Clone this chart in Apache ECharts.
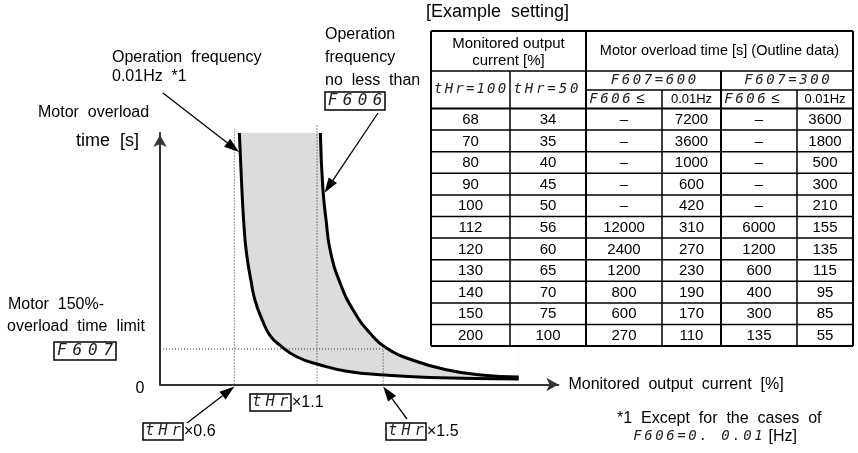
<!DOCTYPE html>
<html>
<head>
<meta charset="utf-8">
<script src="https://cdn.jsdelivr.net/npm/echarts/dist/echarts.min.js"></script>
<style>
  html, body { margin: 0; padding: 0; background: #fff; }
  #chart { width: 858px; height: 453px; }
</style>
</head>
<body>
<div id="chart"></div>
<script>
// ---- Curve data: current in multiples of tHr, overload time in seconds ----
// Operation frequency 0.01 Hz
const lowCurrent = [0.63, 0.645, 0.66, 0.675, 0.70, 0.725, 0.77, 0.815, 0.875, 0.98, 1.12, 1.28, 1.51, 1.78, 2.32];
const lowTime    = [4250, 3320, 2600, 2180, 1760, 1420, 1080, 830, 665, 465, 330, 225, 160, 120, 95];
// Operation frequency no less than F606
const highCurrent = [1.12, 1.135, 1.155, 1.18, 1.24, 1.32, 1.42, 1.52, 1.68, 1.89, 2.09, 2.32];
const highTime    = [4250, 3320, 2770, 2260, 1710, 1250, 870, 615, 410, 245, 160, 125];

// Guide lines: tHr x0.6, x1.1, x1.5 and the F607 level
const guideCurrent = [0.6, 1.1, 1.5];
const guideTop     = [4320, 4380, 600];
const limitTime    = 600;

// ---- Example setting table ----
const pctTHr100  = [68, 70, 80, 90, 100, 112, 120, 130, 140, 150, 200];
const pctTHr50   = [34, 35, 40, 45, 50, 56, 60, 65, 70, 75, 100];
const t600Above  = [null, null, null, null, null, 12000, 2400, 1200, 800, 600, 270];
const t600Min    = [7200, 3600, 1000, 600, 420, 310, 270, 230, 190, 170, 110];
const t300Above  = [null, null, null, null, null, 6000, 1200, 600, 400, 300, 135];
const t300Min    = [3600, 1800, 500, 300, 210, 155, 135, 115, 95, 85, 55];

const SANS = '"Liberation Sans", Arial, sans-serif';
const SEG = '"DejaVu Sans Mono", monospace';

const zip = (xs, ys) => xs.map((x, i) => [x, ys[i]]);

// seven-segment style display text: every character in its own fixed-width cell
function segRich(str) {
  return str.split('').map(c => '{c|' + c + '}').join('');
}
function segEl(x, y, str, charW, size, tail, tailSize) {
  return {
    type: 'text', x, y, z: 100,
    style: {
      text: segRich(str) + (tail ? '{n|' + tail + '}' : ''),
      align: 'left', verticalAlign: 'middle',
      rich: {
        c: { width: charW, align: 'center', fontSize: size, fontFamily: SEG, fontStyle: 'italic', fill: '#222' },
        n: { fontSize: tailSize || 15, fontFamily: SANS, fill: '#000' }
      }
    }
  };
}
function textEl(x, y, text, size, extra) {
  return {
    type: 'text', x, y, z: 100,
    style: Object.assign({ text, fontSize: size, fontFamily: SANS, fill: '#000', align: 'left', verticalAlign: 'middle' }, extra || {})
  };
}
function boxEl(x, y, w, h) {
  return { type: 'rect', z: 99, shape: { x, y, width: w, height: h }, style: { fill: '#fff', stroke: '#000', lineWidth: 1.5 } };
}
function lineEl(x1, y1, x2, y2, w) {
  return { type: 'line', z: 100, shape: { x1, y1, x2, y2 }, style: { stroke: '#000', lineWidth: w || 1.5 } };
}
function arrowEls(from, tip, headLen, headW) {
  const dx = tip[0] - from[0], dy = tip[1] - from[1];
  const L = Math.hypot(dx, dy), ux = dx / L, uy = dy / L;
  const bx = tip[0] - ux * headLen, by = tip[1] - uy * headLen;
  const px = -uy * headW / 2, py = ux * headW / 2;
  return [
    { type: 'line', z: 101, shape: { x1: from[0], y1: from[1], x2: bx, y2: by }, style: { stroke: '#000', lineWidth: 1.3 } },
    { type: 'polygon', z: 101, shape: { points: [tip, [bx + px, by + py], [bx - px, by - py]] }, style: { fill: '#000' } }
  ];
}

// ---- static annotations ----
const annotations = [
  textEl(112, 58, 'Operation  frequency', 16),
  textEl(112, 77, '0.01Hz  *1', 16),
  textEl(325, 35, 'Operation', 16),
  textEl(325, 58, 'frequency', 16),
  textEl(325, 81, 'no  less  than', 16),
  boxEl(325, 92, 60, 18), segEl(325, 101, 'F606', 15, 16),
  textEl(38, 113, 'Motor  overload', 16),
  textEl(76, 141, 'time  [s]', 18),
  textEl(8, 305, 'Motor  150%-', 16),
  textEl(7, 327, 'overload  time  limit', 16),
  boxEl(54, 342, 62, 18), segEl(54, 351, 'F607', 15.5, 16),
  boxEl(250, 394, 41, 17), segEl(250, 402.5, 'tHr', 13.5, 15), textEl(292, 402.5, '×1.1', 16),
  boxEl(143, 423, 40, 17), segEl(143, 431.5, 'tHr', 13.3, 15), textEl(184, 431.5, '×0.6', 16),
  boxEl(386, 423, 40, 17), segEl(386, 431.5, 'tHr', 13.3, 15), textEl(427, 431.5, '×1.5', 16),
  textEl(426, 12, '[Example  setting]', 18),
  textEl(617, 419, '*1  Except  for  the  cases  of', 16),
  segEl(632, 436.5, 'F606=0. 0.01', 11, 14, ' [Hz]', 16)
];

// ---- table ----
const colX = [431, 510, 586, 662, 721, 797, 853];
const yTop = 31, yH1 = 71, yH2 = 90, yH3 = 108.5, rowH = 21.6;
const yBottom = yH3 + rowH * pctTHr100.length;
const tableEls = [];
// horizontal rules
tableEls.push(lineEl(colX[0], yTop, colX[6], yTop, 2));
tableEls.push(lineEl(colX[0], yH1, colX[6], yH1));
tableEls.push(lineEl(colX[2], yH2, colX[6], yH2));
tableEls.push(lineEl(colX[0], yH3, colX[6], yH3, 2));
for (let i = 1; i < pctTHr100.length; i++) {
  const y = yH3 + rowH * i;
  tableEls.push(lineEl(colX[0], y, colX[6], y));
}
tableEls.push(lineEl(colX[0], yBottom, colX[6], yBottom, 2));
// vertical rules
tableEls.push(lineEl(colX[0], yTop, colX[0], yBottom, 2));
tableEls.push(lineEl(colX[6], yTop, colX[6], yBottom, 2));
tableEls.push(lineEl(colX[2], yTop, colX[2], yBottom, 2));
tableEls.push(lineEl(colX[1], yH1, colX[1], yBottom));
tableEls.push(lineEl(colX[4], yH1, colX[4], yBottom, 2));
tableEls.push(lineEl(colX[3], yH2, colX[3], yBottom));
tableEls.push(lineEl(colX[5], yH2, colX[5], yBottom));
// headers
const mid = (a, b) => (a + b) / 2;
tableEls.push(textEl(mid(colX[0], colX[2]), 44, 'Monitored output', 15, { align: 'center' }));
tableEls.push(textEl(mid(colX[0], colX[2]), 61, 'current [%]', 15, { align: 'center' }));
tableEls.push(textEl(mid(colX[2], colX[6]), 51, 'Motor overload time [s] (Outline data)', 14.5, { align: 'center' }));
tableEls.push(segEl(433, mid(yH1, yH3), 'tHr=100', 10.6, 14));
tableEls.push(segEl(512, mid(yH1, yH3), 'tHr=50', 11.3, 14));
tableEls.push(segEl(mid(colX[2], colX[4]) - 44, mid(yH1, yH2), 'F607=600', 11, 14));
tableEls.push(segEl(mid(colX[4], colX[6]) - 44, mid(yH1, yH2), 'F607=300', 11, 14));
tableEls.push(segEl(588, mid(yH2, yH3), 'F606', 11, 14, ' ≤', 15));
tableEls.push(segEl(723, mid(yH2, yH3), 'F606', 11, 14, ' ≤', 15));
tableEls.push(textEl(mid(colX[3], colX[4]), mid(yH2, yH3), '0.01Hz', 13, { align: 'center' }));
tableEls.push(textEl(mid(colX[5], colX[6]), mid(yH2, yH3), '0.01Hz', 13, { align: 'center' }));
// body
const cols = [pctTHr100, pctTHr50, t600Above, t600Min, t300Above, t300Min];
pctTHr100.forEach((_, r) => {
  const y = yH3 + rowH * (r + 0.5);
  cols.forEach((col, c) => {
    const v = col[r];
    tableEls.push(textEl(mid(colX[c], colX[c + 1]), y + 0.5, v == null ? '–' : String(v), 15, { align: 'center' }));
  });
});

// ---- chart ----
const SMOOTH = 0.5;
const guideStyle = { color: '#333', width: 1, type: [1, 2] };
const series = [
  { type: 'line', data: zip(lowCurrent, lowTime), smooth: SMOOTH, symbol: 'none', z: 1,
    lineStyle: { width: 0 }, areaStyle: { color: '#dcdcdc', opacity: 1, origin: 'end' }, silent: true },
  { type: 'line', data: zip(highCurrent, highTime), smooth: SMOOTH, symbol: 'none', z: 2,
    lineStyle: { width: 0 }, areaStyle: { color: '#ffffff', opacity: 1, origin: 'end' }, silent: true }
];
guideCurrent.forEach((g, i) => {
  series.push({ type: 'line', data: [[g, 0], [g, guideTop[i]]], symbol: 'none', z: 3, clip: false,
    lineStyle: guideStyle, silent: true });
});
series.push({ type: 'line', data: [[0.15, limitTime], [guideCurrent[2], limitTime]], symbol: 'none', z: 3,
  clip: false, lineStyle: guideStyle, silent: true });
series.push({ type: 'line', data: zip(lowCurrent, lowTime), smooth: SMOOTH, symbol: 'none', z: 4,
  clip: false, lineStyle: { color: '#000', width: 3 } });
series.push({ type: 'line', data: zip(highCurrent, highTime), smooth: SMOOTH, symbol: 'none', z: 4,
  clip: false, lineStyle: { color: '#000', width: 3 } });

const chart = echarts.init(document.getElementById('chart'), null, { renderer: 'canvas' });
const option = {
  animation: false,
  backgroundColor: '#fff',
  grid: { left: 160, top: 133, width: 398.4, height: 251.5 },
  xAxis: {
    type: 'value', min: 0.15, max: 2.56,
    name: 'Monitored  output  current  [%]', nameLocation: 'end', nameGap: 10,
    nameTextStyle: { fontSize: 16, fontFamily: SANS, color: '#000', align: 'left', verticalAlign: 'middle' },
    axisLine: { show: true, lineStyle: { color: '#333', width: 2 }, symbol: ['none', 'arrow'], symbolSize: [10, 12] },
    axisTick: { show: false }, axisLabel: { show: false }, splitLine: { show: false }
  },
  yAxis: {
    type: 'value', min: 0, max: 4250, interval: 4250,
    axisLine: { show: true, lineStyle: { color: '#333', width: 2 }, symbol: ['none', 'arrow'], symbolSize: [10, 12],
      symbolOffset: [0, -2] },
    axisTick: { show: false }, splitLine: { show: false },
    axisLabel: { show: false }
  },
  series,
  graphic: annotations.concat(tableEls)
};
chart.setOption(option);

// origin label and arrows pointing at the curves and the axis positions
const px = p => chart.convertToPixel({ gridIndex: 0 }, p);
const origin = px([0.15, 0]);
const originLabel = textEl(origin[0] - 20, origin[1] + 4, '0', 16, { align: 'center' });
const arrows = [].concat(
  arrowEls([163, 93], px([0.628, 3930]), 15, 10),
  arrowEls([378, 113], px([1.145, 3240]), 15, 10),
  arrowEls([187, 423], px([guideCurrent[0], 0]).map((v, i) => v + (i ? 2 : 0)), 15, 10),
  arrowEls([407, 419], px([guideCurrent[2], 0]).map((v, i) => v + (i ? 2 : 0)), 15, 10)
);
chart.setOption({ graphic: annotations.concat(tableEls, arrows, [originLabel]) });
</script>
</body>
</html>
